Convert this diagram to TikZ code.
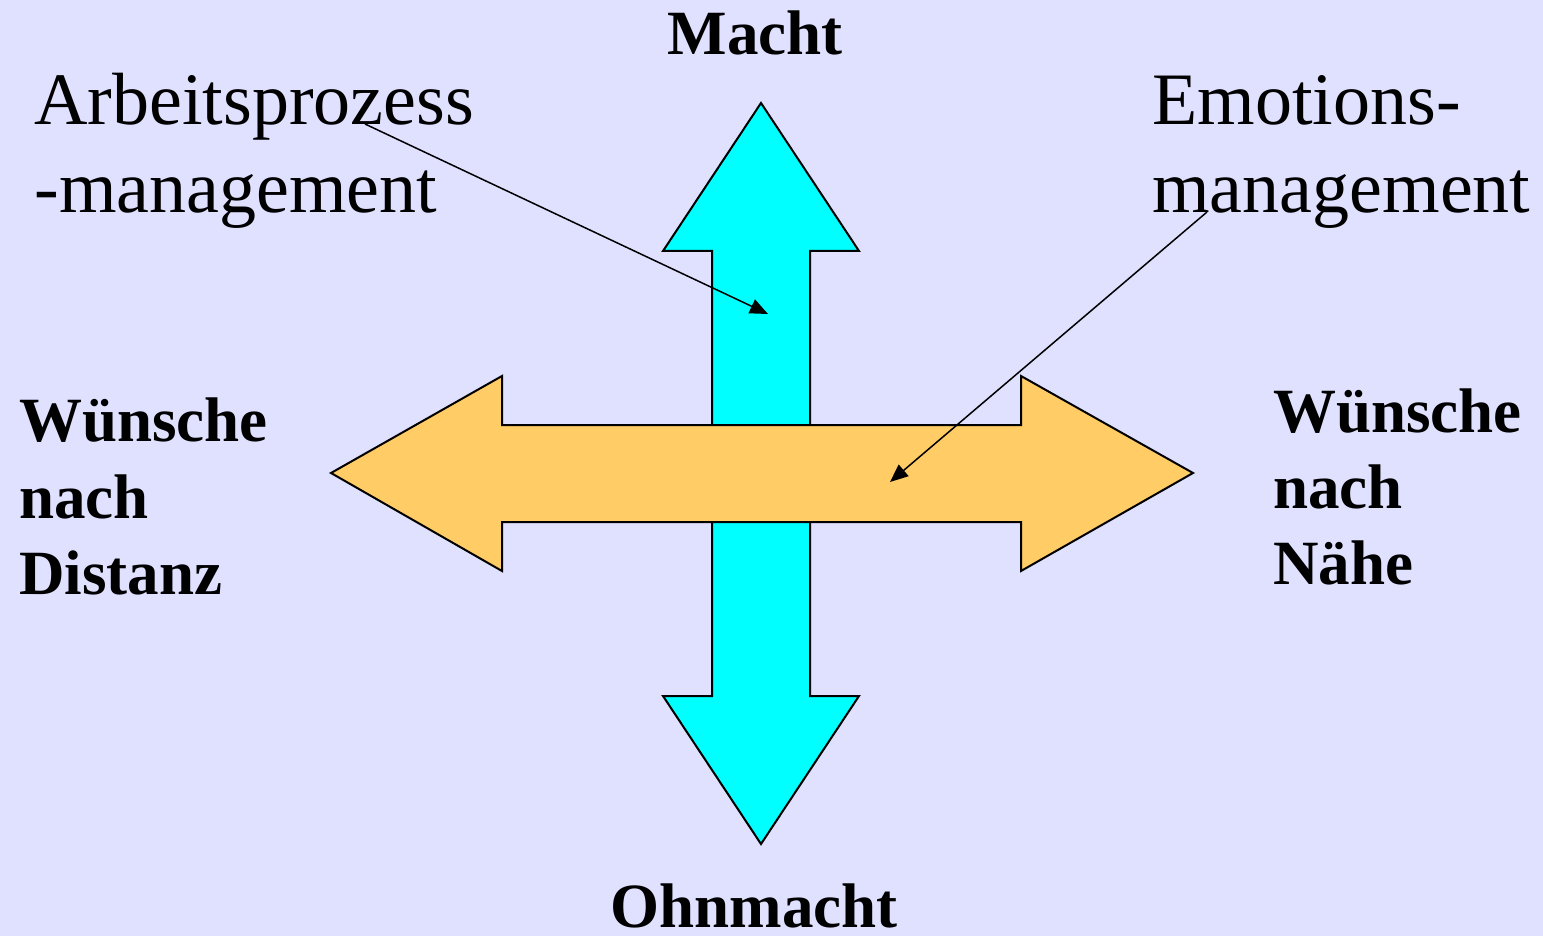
\documentclass[tikz,border=0pt]{standalone}
\usepackage{fontspec}
\setmainfont{Liberation Serif}
\usetikzlibrary{arrows.meta}
\definecolor{bgcol}{HTML}{E0E0FF}
\definecolor{cyanfill}{HTML}{00FFFF}
\definecolor{orangefill}{HTML}{FFCC66}
\tikzset{
  bigarrow/.style={draw=black, line width=1pt, line join=miter},
  reglabel/.style={inner sep=0pt, anchor=base west, font=\fontsize{37}{44}\selectfont},
  boldlabel/.style={inner sep=0pt, anchor=base west, font=\fontsize{31.5}{38}\selectfont\bfseries},
  pointer/.style={draw=black, line width=0.75pt, -{Triangle[length=9pt,width=7.5pt]}}
}
\begin{document}
\begin{tikzpicture}[x=0.5pt,y=-0.5pt]
\fill[bgcol] (0,0) rectangle (1543,936);
\useasboundingbox (0,0) rectangle (1543,936);
% vertical arrow
\draw[bigarrow, fill=cyanfill] (761,103) -- (859,251) -- (810,251) -- (810,696) -- (859,696)
  -- (761,844) -- (663,696) -- (712,696) -- (712,251) -- (663,251) -- cycle;
% horizontal arrow
\draw[bigarrow, fill=orangefill] (331,473) -- (502,376) -- (502,425) -- (1021,425) -- (1021,376)
  -- (1193,473) -- (1021,571) -- (1021,522) -- (502,522) -- (502,571) -- cycle;
% labels
\node[boldlabel, anchor=base] (macht) at (755,55) {Macht};
\node[boldlabel, anchor=base] (ohnmacht) at (754,927) {Ohnmacht};
\node[boldlabel] (wd1) at (19,442) {Wünsche};
\node[boldlabel] (wd2) at (19,518) {nach};
\node[boldlabel] (wd3) at (19,594) {Distanz};
\node[boldlabel] (wn1) at (1273,432) {Wünsche};
\node[boldlabel] (wn2) at (1273,508) {nach};
\node[boldlabel] (wn3) at (1273,584) {Nähe};
\node[reglabel] (ap1) at (34,125) {Arbeitsprozess};
\node[reglabel] (ap2) at (34,213) {-management};
\node[reglabel] (em1) at (1152,125) {Emotions-};
\node[reglabel] (em2) at (1152,213) {management};
% pointers
\coordinate (apstart) at (365,124);
\coordinate (apend) at (768,314);
\coordinate (emstart) at (1207,212);
\coordinate (emend) at (890,482);
\draw[pointer] (apstart) -- (apend);
\draw[pointer] (emstart) -- (emend);
\end{tikzpicture}
\end{document}
